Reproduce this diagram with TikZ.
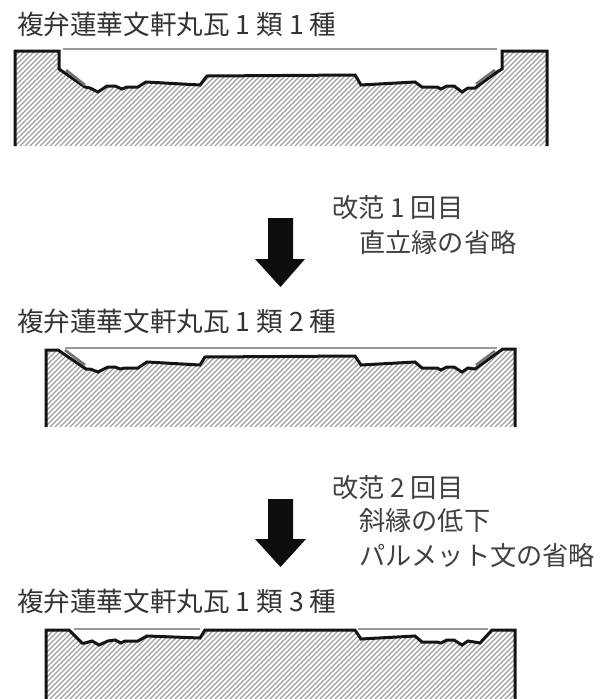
\documentclass[tikz,border=0pt]{standalone}
\usepackage{fontspec}
\setmainfont{Noto Sans CJK JP}
\tikzset{
  ttl/.style={anchor=base west,inner sep=0pt,font=\fontsize{26.6pt}{30pt}\selectfont,text=black!80},
  note/.style={anchor=base west,inner sep=0pt,font=\fontsize{26.2pt}{30pt}\selectfont,text=black!75},
  outline/.style={line width=3pt,line join=miter,black!92},
  greyline/.style={line width=1.6pt,black!40},
  barline/.style={line width=2.6pt,black!55},
  hatch/.style={line width=1.2pt,black!38},
  downarrow/.style={fill=black!95,draw=none},
}
\newcommand{\hatchlines}[2]{%
  \foreach \k in {-40,...,140}{\draw[hatch] ({\k*5},#2) -- ({\k*5+#2-#1},#1);}}
\begin{document}
\begin{tikzpicture}[x=1pt,y=-1pt]
\useasboundingbox (0,0) rectangle (604,699);
% tile 1
\begin{scope}
\clip (15,146) -- (15,51) -- (59,51) -- (59,69) -- (85,87) -- (90,88) -- (98,92) -- (107,86) -- (115,86) -- (122,89) -- (127,87) -- (138,87) -- (146,82) -- (200,85) -- (207,76) -- (355,75) -- (361,85) -- (415,82) -- (422,87) -- (437,87) -- (441,89) -- (447,86) -- (454,86) -- (462,92) -- (468,88) -- (475,88) -- (497,72) -- (502,69) -- (502,51) -- (547,51) -- (547,146) -- cycle;
\hatchlines{51}{146}
\end{scope}
\draw[outline] (15,146) -- (15,51) -- (59,51) -- (59,69) -- (85,87) -- (90,88) -- (98,92) -- (107,86) -- (115,86) -- (122,89) -- (127,87) -- (138,87) -- (146,82) -- (200,85) -- (207,76) -- (355,75) -- (361,85) -- (415,82) -- (422,87) -- (437,87) -- (441,89) -- (447,86) -- (454,86) -- (462,92) -- (468,88) -- (475,88) -- (497,72) -- (502,69) -- (502,51) -- (547,51) -- (547,146);
\draw[greyline] (63,49) -- (497,49);
\draw[barline] (66,70) -- (85,85);
\draw[barline] (476,84) -- (495,70);
% tile 2
\begin{scope}
\clip (46,427) -- (46,350) -- (58,350) -- (86,369) -- (90,369) -- (98,372) -- (108,367) -- (115,367) -- (120,369) -- (125,368) -- (138,368) -- (147,362) -- (200,365) -- (205,357) -- (355,356) -- (361,365) -- (415,362) -- (422,368) -- (437,368) -- (441,370) -- (447,367) -- (454,367) -- (462,372) -- (468,368) -- (475,369) -- (500,351) -- (503,349) -- (515,349) -- (515,427) -- cycle;
\hatchlines{349}{427}
\end{scope}
\draw[outline] (46,427) -- (46,350) -- (58,350) -- (86,369) -- (90,369) -- (98,372) -- (108,367) -- (115,367) -- (120,369) -- (125,368) -- (138,368) -- (147,362) -- (200,365) -- (205,357) -- (355,356) -- (361,365) -- (415,362) -- (422,368) -- (437,368) -- (441,370) -- (447,367) -- (454,367) -- (462,372) -- (468,368) -- (475,369) -- (500,351) -- (503,349) -- (515,349) -- (515,427);
\draw[greyline] (65,348) -- (497,348);
\draw[barline] (65,350) -- (85,365);
\draw[barline] (476,365) -- (495,351);
% tile 3
\begin{scope}
\clip (46,699) -- (46,630) -- (69,630) -- (82,643) -- (85,643) -- (92,641) -- (99,645) -- (108,641) -- (115,640) -- (121,643) -- (125,641) -- (138,641) -- (147,636) -- (200,638) -- (205,630) -- (355,630) -- (361,639) -- (415,636) -- (422,642) -- (437,642) -- (441,643) -- (447,640) -- (454,640) -- (462,645) -- (468,641) -- (480,643) -- (492,630) -- (515,630) -- (515,699) -- cycle;
\hatchlines{630}{699}
\end{scope}
\draw[outline] (46,699) -- (46,630) -- (69,630) -- (82,643) -- (85,643) -- (92,641) -- (99,645) -- (108,641) -- (115,640) -- (121,643) -- (125,641) -- (138,641) -- (147,636) -- (200,638) -- (205,630) -- (355,630) -- (361,639) -- (415,636) -- (422,642) -- (437,642) -- (441,643) -- (447,640) -- (454,640) -- (462,645) -- (468,641) -- (480,643) -- (492,630) -- (515,630) -- (515,699);
\draw[greyline] (74,629) -- (200,629);
\draw[greyline] (358,629) -- (488,629);
% arrows
\fill[downarrow] (268,218) -- (293,218) -- (293,259) -- (305,259) -- (280.5,287) -- (255,259) -- (268,259) -- cycle;
\fill[downarrow] (268,499) -- (293,499) -- (293,539) -- (306,539) -- (280.5,567) -- (255,539) -- (268,539) -- cycle;
% text
\node[ttl] (t1) at (17,34) {複弁蓮華文軒丸瓦 1 類 1 種};
\node[ttl] (t2) at (17,331) {複弁蓮華文軒丸瓦 1 類 2 種};
\node[ttl] (t3) at (17,611) {複弁蓮華文軒丸瓦 1 類 3 種};
\node[note] (n1) at (332,217) {改范 1 回目};
\node[note] (n1b) at (359,252) {直立縁の省略};
\node[note] (n2) at (332,497) {改范 2 回目};
\node[note] (n2b) at (359,530) {斜縁の低下};
\node[note] (n2c) at (359,565) {パルメット文の省略};
\end{tikzpicture}
\end{document}
